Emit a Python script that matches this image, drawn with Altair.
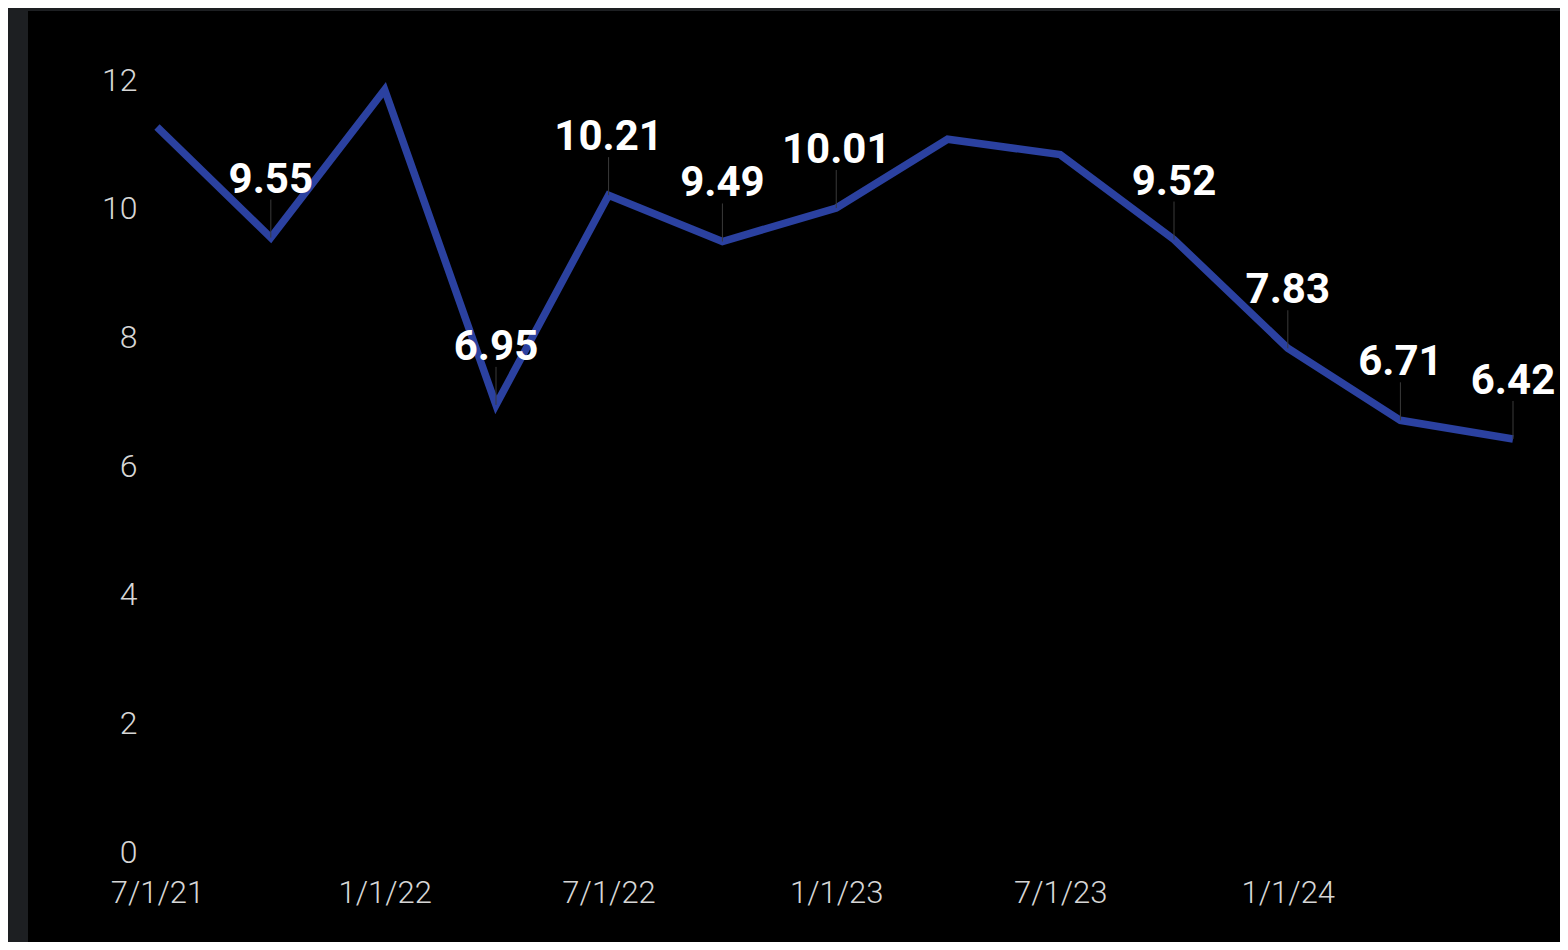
import altair as alt
import pandas as pd

dates = ["2021-07-01", "2021-10-01", "2022-01-01", "2022-04-01", "2022-07-01",
         "2022-10-01", "2023-01-01", "2023-04-01", "2023-07-01", "2023-10-01",
         "2024-01-01", "2024-04-01", "2024-07-01"]
values = [11.27, 9.55, 11.85, 6.95, 10.21, 9.49, 10.01, 11.08, 10.84, 9.52, 7.83, 6.71, 6.42]
labeled = [False, True, False, True, True, True, True, False, False, True, True, True, True]
x_ticks = ["2021-07-01", "2022-01-01", "2022-07-01", "2023-01-01", "2023-07-01", "2024-01-01"]
y_ticks = [0, 2, 4, 6, 8, 10, 12]

df = pd.DataFrame({"date": pd.to_datetime(dates), "value": values, "labeled": labeled})
df["label"] = df["value"].map(lambda v: f"{v:.2f}")
lab = df[df["labeled"]]

W, H = 1356, 772
PAD = {"left": 149, "top": 72, "right": 47, "bottom": 90}

x = alt.X("date:T",
          scale=alt.Scale(domain=[pd.Timestamp("2021-07-01").isoformat(),
                                  pd.Timestamp("2024-07-01").isoformat()]),
          axis=alt.Axis(values=[pd.Timestamp(t).isoformat() for t in x_ticks],
                        labelExpr="(month(datum.value)+1) + '/' + date(datum.value) + '/' + timeFormat(datum.value, '%y')",
                        title=None, domain=False, ticks=False, grid=False, zindex=1,
                        labelFont="Roboto", labelFontSize=31, labelFontWeight=300,
                        labelColor="#d6d6d6",
                        labelPadding=26, labelFlush=False, labelOverlap=False))
y = alt.Y("value:Q", scale=alt.Scale(domain=[0, 12], nice=False),
          axis=alt.Axis(values=y_ticks, format="d", title=None, domain=False, ticks=False,
                        grid=False, zindex=1, labelFont="Roboto", labelFontSize=32,
                        labelFontWeight=300, labelColor="#d6d6d6", labelPadding=20))

panel = alt.Chart(pd.DataFrame({"a": [0]})).mark_rect(color="#000000").encode(
    x=alt.value(-129), x2=alt.value(1403), y=alt.value(-69), y2=alt.value(880))

line = alt.Chart(df).mark_line(color="#2B41A0", strokeWidth=7.5, strokeCap="butt",
                               strokeJoin="miter").encode(x=x, y=y)

leaders = alt.Chart(lab).mark_rule(color="#3a3a3a", strokeWidth=1, y2Offset=-38).encode(
    x="date:T", y="value:Q", y2="value:Q")

texts = alt.Chart(lab).mark_text(font="Roboto", fontWeight="bold", fontSize=42,
                                 color="#ffffff", dy=-45, baseline="alphabetic",
                                 align="center").encode(
    x="date:T", y="value:Q", text="label:N")

chart = alt.layer(panel, line, leaders, texts).properties(
    width=W, height=H, background="#1d1f22", padding=PAD,
    autosize=alt.AutoSizeParams(type="none")
).configure_view(stroke=None)

chart.save("out.html", embed_options={"renderer": "svg", "actions": False})
